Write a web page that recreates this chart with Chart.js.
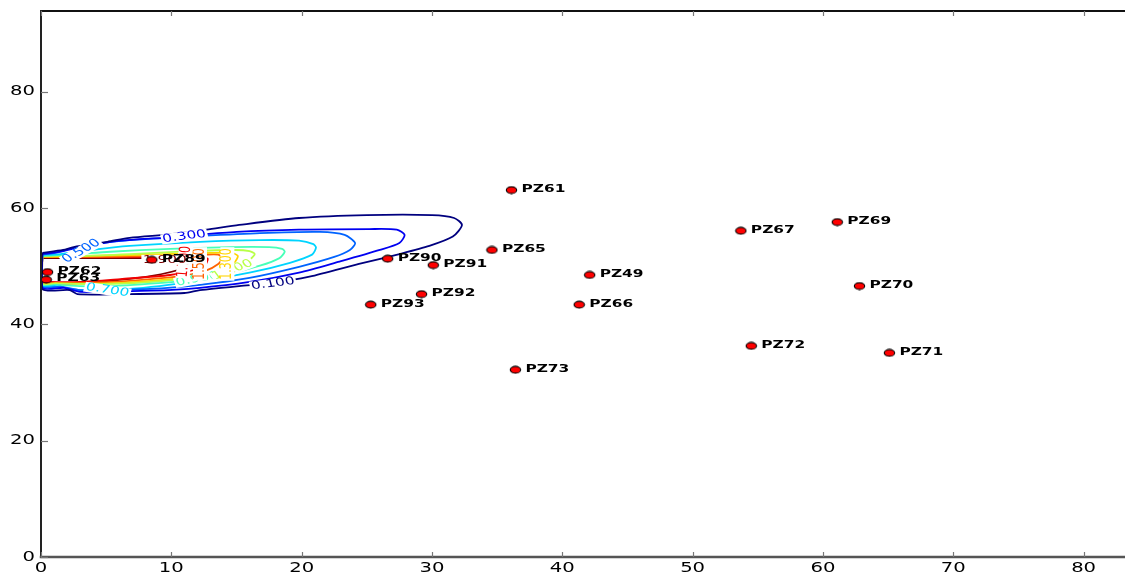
<!DOCTYPE html>
<html>
<head>
<meta charset="utf-8">
<script src="https://cdn.jsdelivr.net/npm/chart.js@4.4.1/dist/chart.umd.min.js"></script>
<style>
  html, body { margin: 0; padding: 0; background: #fff; overflow: hidden; }
  #wrap { position: relative; width: 1130px; height: 576px; }
</style>
</head>
<body>
<div id="wrap"><canvas id="chart"></canvas></div>
<script>
// piezometer wells
const wellNames = ['PZ61', 'PZ67', 'PZ69', 'PZ65', 'PZ90', 'PZ91', 'PZ49', 'PZ70', 'PZ92',
  'PZ93', 'PZ66', 'PZ72', 'PZ71', 'PZ73', 'PZ89', 'PZ62', 'PZ63'];
const wellX = [36.1, 53.7, 61.1, 34.6, 26.6, 30.1, 42.1, 62.8, 29.2, 25.3, 41.3, 54.5, 65.1, 36.4, 8.5, 0.5, 0.4];
const wellY = [63.1, 56.1, 57.6, 52.8, 51.3, 50.2, 48.5, 46.6, 45.2, 43.4, 43.4, 36.3, 35.1, 32.2, 51.1, 49.0, 47.7];

// contour levels and their traced outlines (x, y)
const levels = ['0.100', '0.300', '0.500', '0.700', '0.900', '1.100', '1.300', '1.500', '1.700', '1.900'];
const levelColors = ['#00007f', '#0000f1', '#0063ff', '#00d4ff', '#47ffb8', '#b8ff47', '#ffd400', '#ff6300', '#f10000', '#7f0000'];

const c010 = [[0.1, 52.3], [1.7, 52.8], [2.5, 53.3], [5.1, 54.2], [6.8, 54.9], [9.9, 55.5], [12.7, 56.3], [15.2, 57.1],
  [19.8, 58.3], [25.0, 58.8], [30.0, 58.8], [31.7, 58.3], [32.3, 57.1], [31.6, 55.1], [29.8, 53.5], [27.5, 52.1],
  [24.4, 50.4], [20.6, 48.2], [17.7, 47.1], [15.2, 46.6], [12.2, 45.9], [11.0, 45.4], [6.1, 45.2], [2.8, 45.2],
  [2.2, 45.9], [0.1, 46.1], [0.1, 52.3]];
const c030 = [[0.1, 52.1], [1.5, 52.5], [3.0, 53.3], [6.1, 54.4], [9.3, 54.9], [11.0, 55.2], [15.0, 55.9], [19.8, 56.3],
  [25.2, 56.4], [27.3, 56.3], [27.9, 55.4], [27.5, 54.0], [26.0, 52.8], [22.9, 50.8], [19.8, 48.9], [16.0, 47.3],
  [12.2, 46.3], [8.4, 45.8], [3.0, 45.6], [1.8, 46.3], [0.1, 46.3], [0.1, 52.1]];
const c050 = [[0.1, 52.0], [1.1, 52.3], [2.2, 53.0], [4.1, 53.8], [6.8, 54.5], [12.2, 55.2], [16.8, 55.7], [21.4, 55.9],
  [23.3, 55.4], [24.1, 54.0], [23.7, 52.8], [22.5, 51.6], [19.8, 49.9], [16.0, 48.0], [12.2, 46.8], [8.4, 46.1],
  [3.0, 45.9], [1.5, 46.5], [0.1, 46.5], [0.1, 52.0]];
const c070 = [[0.1, 52.0], [1.5, 52.1], [3.8, 52.8], [6.8, 53.5], [12.2, 54.2], [16.8, 54.5], [19.8, 54.4], [20.9, 53.8],
  [21.1, 53.2], [20.8, 52.0], [19.1, 50.6], [16.0, 48.9], [12.2, 47.5], [6.8, 46.1], [3.0, 45.9], [1.1, 46.6],
  [0.1, 46.6], [0.1, 52.0]];
const c090 = [[0.1, 51.8], [2.2, 52.0], [5.3, 52.5], [9.9, 53.0], [14.5, 53.3], [17.5, 53.3], [18.5, 53.0], [18.7, 52.5],
  [18.3, 51.4], [16.8, 50.1], [13.7, 48.3], [12.2, 47.8], [8.4, 47.0], [4.5, 46.5], [1.1, 46.8], [0.1, 46.8], [0.1, 51.8]];
const c110 = [[0.1, 51.8], [3.0, 51.8], [6.8, 52.1], [11.4, 52.6], [14.9, 52.8], [16.0, 52.6], [16.4, 52.1], [16.0, 51.1],
  [15.2, 49.9], [13.7, 48.9], [10.7, 47.8], [6.1, 47.0], [1.1, 47.0], [0.1, 47.0], [0.1, 51.8]];
const c130 = [[0.1, 51.6], [3.8, 51.8], [8.4, 52.0], [13.0, 52.3], [14.6, 52.3], [15.1, 51.8], [14.9, 50.8], [14.1, 49.4],
  [12.2, 48.3], [8.4, 47.5], [4.5, 47.0], [1.1, 47.1], [0.1, 47.1], [0.1, 51.6]];
const c150 = [[0.1, 51.6], [4.5, 51.6], [9.1, 51.8], [12.6, 52.0], [13.6, 52.0], [13.9, 51.4], [13.6, 50.4], [12.6, 49.2],
  [10.7, 48.3], [6.8, 47.5], [3.0, 47.1], [0.7, 47.1], [0.1, 47.3], [0.1, 51.6]];
const c170 = [[0.1, 51.6], [5.3, 51.6], [9.9, 51.6], [12.2, 51.6], [12.6, 51.4], [12.8, 51.3], [12.6, 50.2], [11.8, 49.4],
  [9.9, 48.5], [6.1, 47.8], [3.0, 47.3], [0.7, 47.3], [0.1, 47.5], [0.1, 51.6]];
const c190 = [[0.1, 51.4], [4.5, 51.4], [8.4, 51.4], [10.3, 51.3], [11.3, 51.1], [11.4, 50.8], [11.0, 49.7], [8.4, 48.3],
  [5.3, 47.5], [2.8, 47.1], [1.5, 47.0], [0.3, 47.1], [0.1, 47.5], [0.1, 51.4]];
const contours = [c010, c030, c050, c070, c090, c110, c130, c150, c170, c190];

// inline contour labels: level index, position, angle (before stretch)
const clabelLevel = [0, 1, 2, 3, 4, 5, 6, 7, 8, 9];
const clabelX = [17.8, 11.0, 3.1, 5.1, 12.0, 14.7, 14.3, 12.2, 11.0, 9.5];
const clabelY = [47.0, 55.1, 52.6, 45.9, 47.8, 49.4, 50.4, 50.4, 50.8, 51.1];
const clabelAngle = [-10, -10, -38, 12, -14, -28, -90, -90, -85, 0];

const xTicks = [0, 10, 20, 30, 40, 50, 60, 70, 80];
const yTicks = [0, 20, 40, 60, 80];

const SX = 1.4; // the original picture is stretched sideways

// red dot, squashed
const dot = document.createElement('canvas');
dot.width = 13; dot.height = 9;
const dctx = dot.getContext('2d');
dctx.beginPath();
dctx.ellipse(6.5, 4.5, 5.2, 3.4, 0, 0, Math.PI * 2);
dctx.fillStyle = '#ff0000';
dctx.fill();
dctx.lineWidth = 1.1;
dctx.strokeStyle = '#000';
dctx.stroke();

function wideText(ctx, text, px, py, angle, font, color, align, box) {
  ctx.save();
  ctx.translate(px, py);
  ctx.scale(SX, 1);
  ctx.rotate(angle * Math.PI / 180);
  ctx.font = font;
  ctx.textAlign = align;
  ctx.textBaseline = 'middle';
  if (box) {
    const w = ctx.measureText(text).width;
    ctx.fillStyle = '#fff';
    ctx.fillRect(-w / 2 - 1, -5, w + 2, 10);
  }
  ctx.fillStyle = color;
  ctx.fillText(text, 0, 0);
  ctx.restore();
}

const decor = {
  id: 'decor',
  beforeDatasetDraw(chart, args) {
    if (args.index !== 0) return;
    const { ctx, scales: { x, y } } = chart;
    clabelLevel.forEach((li, i) => {
      wideText(ctx, levels[li], x.getPixelForValue(clabelX[i]), y.getPixelForValue(clabelY[i]),
        clabelAngle[i], '11px "DejaVu Sans"', levelColors[li], 'center', true);
    });
  },
  afterDatasetsDraw(chart) {
    const { ctx, scales: { x, y } } = chart;
    wellNames.forEach((name, i) => {
      wideText(ctx, name, x.getPixelForValue(wellX[i]) + 10, y.getPixelForValue(wellY[i]) - 1,
        0, 'bold 11px "DejaVu Sans"', '#000', 'left', false);
    });
  },
  afterDraw(chart) {
    const { ctx, chartArea: a, scales: { x, y } } = chart;
    ctx.save();
    // spines
    ctx.lineCap = 'square';
    ctx.strokeStyle = '#111';
    ctx.lineWidth = 2;
    ctx.beginPath(); ctx.moveTo(a.left, a.top); ctx.lineTo(a.right, a.top); ctx.stroke();
    ctx.strokeStyle = '#222';
    ctx.beginPath(); ctx.moveTo(a.left, a.top); ctx.lineTo(a.left, a.bottom); ctx.stroke();
    ctx.strokeStyle = '#555';
    ctx.lineWidth = 2.5;
    ctx.beginPath(); ctx.moveTo(a.left, a.bottom); ctx.lineTo(a.right, a.bottom); ctx.stroke();
    // inward ticks
    ctx.strokeStyle = '#777';
    ctx.lineWidth = 1.2;
    ctx.lineCap = 'butt';
    xTicks.forEach(v => {
      const px = Math.round(x.getPixelForValue(v)) + 0.5;
      ctx.beginPath(); ctx.moveTo(px, a.bottom); ctx.lineTo(px, a.bottom - 5); ctx.stroke();
      ctx.beginPath(); ctx.moveTo(px, a.top); ctx.lineTo(px, a.top + 5); ctx.stroke();
    });
    yTicks.forEach(v => {
      const py = Math.round(y.getPixelForValue(v)) + 0.5;
      ctx.beginPath(); ctx.moveTo(a.left, py); ctx.lineTo(a.left + 7, py); ctx.stroke();
    });
    ctx.restore();
    // tick labels
    xTicks.forEach(v => {
      wideText(ctx, String(v), x.getPixelForValue(v), a.bottom + 11, 0, '14px "DejaVu Sans"', '#000', 'center', false);
    });
    yTicks.forEach(v => {
      wideText(ctx, String(v), a.left - 6, y.getPixelForValue(v), 0, '14px "DejaVu Sans"', '#000', 'right', false);
    });
  }
};

const datasets = [{
  data: wellX.map((v, i) => ({ x: v, y: wellY[i] })),
  pointStyle: dot,
  pointRadius: 5,
  pointHoverRadius: 5,
  showLine: false
}];
contours.forEach((pts, i) => {
  datasets.push({
    data: pts.map(p => ({ x: p[0], y: p[1] })),
    showLine: true,
    borderColor: levelColors[i],
    borderWidth: 1.8,
    pointRadius: 0,
    tension: 0.25,
    fill: false
  });
});

new Chart(document.getElementById('chart'), {
  type: 'scatter',
  data: { datasets },
  options: {
    responsive: true,
    maintainAspectRatio: false,
    animation: false,
    layout: { padding: { left: 41, top: 11, right: 0, bottom: 19 } },
    plugins: { legend: { display: false }, tooltip: { enabled: false } },
    scales: {
      x: {
        type: 'linear', min: 0, max: 83.1,
        ticks: { display: false },
        grid: { display: false, drawTicks: false },
        border: { display: false }
      },
      y: {
        type: 'linear', min: 0, max: 93.9,
        ticks: { display: false },
        grid: { display: false, drawTicks: false },
        border: { display: false }
      }
    }
  },
  plugins: [decor]
});
</script>
</body>
</html>
